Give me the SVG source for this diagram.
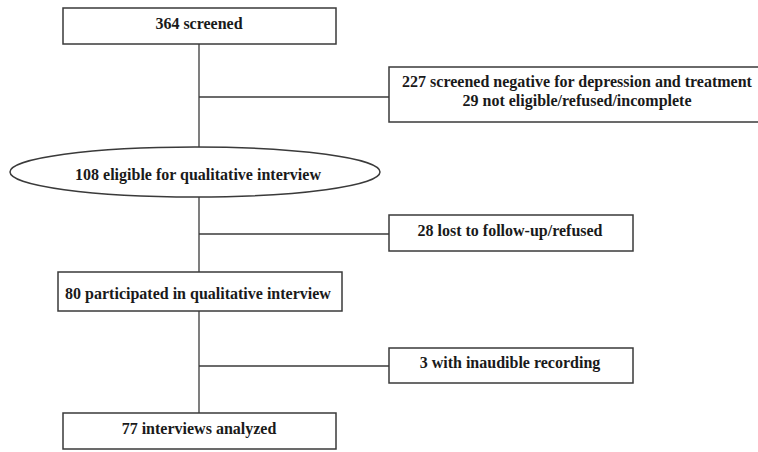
<svg xmlns="http://www.w3.org/2000/svg" width="758" height="452" viewBox="0 0 758 452">
<style>
.box{fill:#fff;stroke:#3a3a3a;stroke-width:1.5}
.ln{stroke:#3a3a3a;stroke-width:1.3;fill:none}
text{font-family:"Liberation Serif","Times New Roman",serif;font-weight:bold;font-size:16px;fill:#1a1a1a;text-anchor:middle;dominant-baseline:central}
</style>
<rect width="758" height="452" fill="#fff"/>
<g id="connectors">
<line class="ln" x1="199" y1="44" x2="199" y2="147"/>
<line class="ln" x1="199" y1="97" x2="389" y2="97"/>
<line class="ln" x1="199" y1="197" x2="199" y2="272"/>
<line class="ln" x1="199" y1="234" x2="389" y2="234"/>
<line class="ln" x1="199" y1="311" x2="199" y2="413"/>
<line class="ln" x1="199" y1="366" x2="389" y2="366"/>
</g>
<g id="n_screened">
<rect class="box" x="63" y="8" width="273" height="36"/>
<text x="199" y="23">364 screened</text>
</g>
<g id="n_excluded1">
<rect class="box" x="389" y="67" width="372" height="55"/>
<text x="577" y="81">227 screened negative for depression and treatment</text>
<text x="577" y="100">29 not eligible/refused/incomplete</text>
</g>
<g id="n_eligible">
<ellipse class="box" cx="195" cy="172" rx="185" ry="25"/>
<text x="198" y="174">108 eligible for qualitative interview</text>
</g>
<g id="n_lost">
<rect class="box" x="389" y="215" width="244" height="36"/>
<text x="510" y="230">28 lost to follow-up/refused</text>
</g>
<g id="n_participated">
<rect class="box" x="58" y="272" width="284" height="39"/>
<text x="198" y="293">80 participated in qualitative interview</text>
</g>
<g id="n_inaudible">
<rect class="box" x="389" y="348" width="244" height="35"/>
<text x="510" y="362">3 with inaudible recording</text>
</g>
<g id="n_analyzed">
<rect class="box" x="63" y="413" width="273" height="36"/>
<text x="199" y="428">77 interviews analyzed</text>
</g>
</svg>
